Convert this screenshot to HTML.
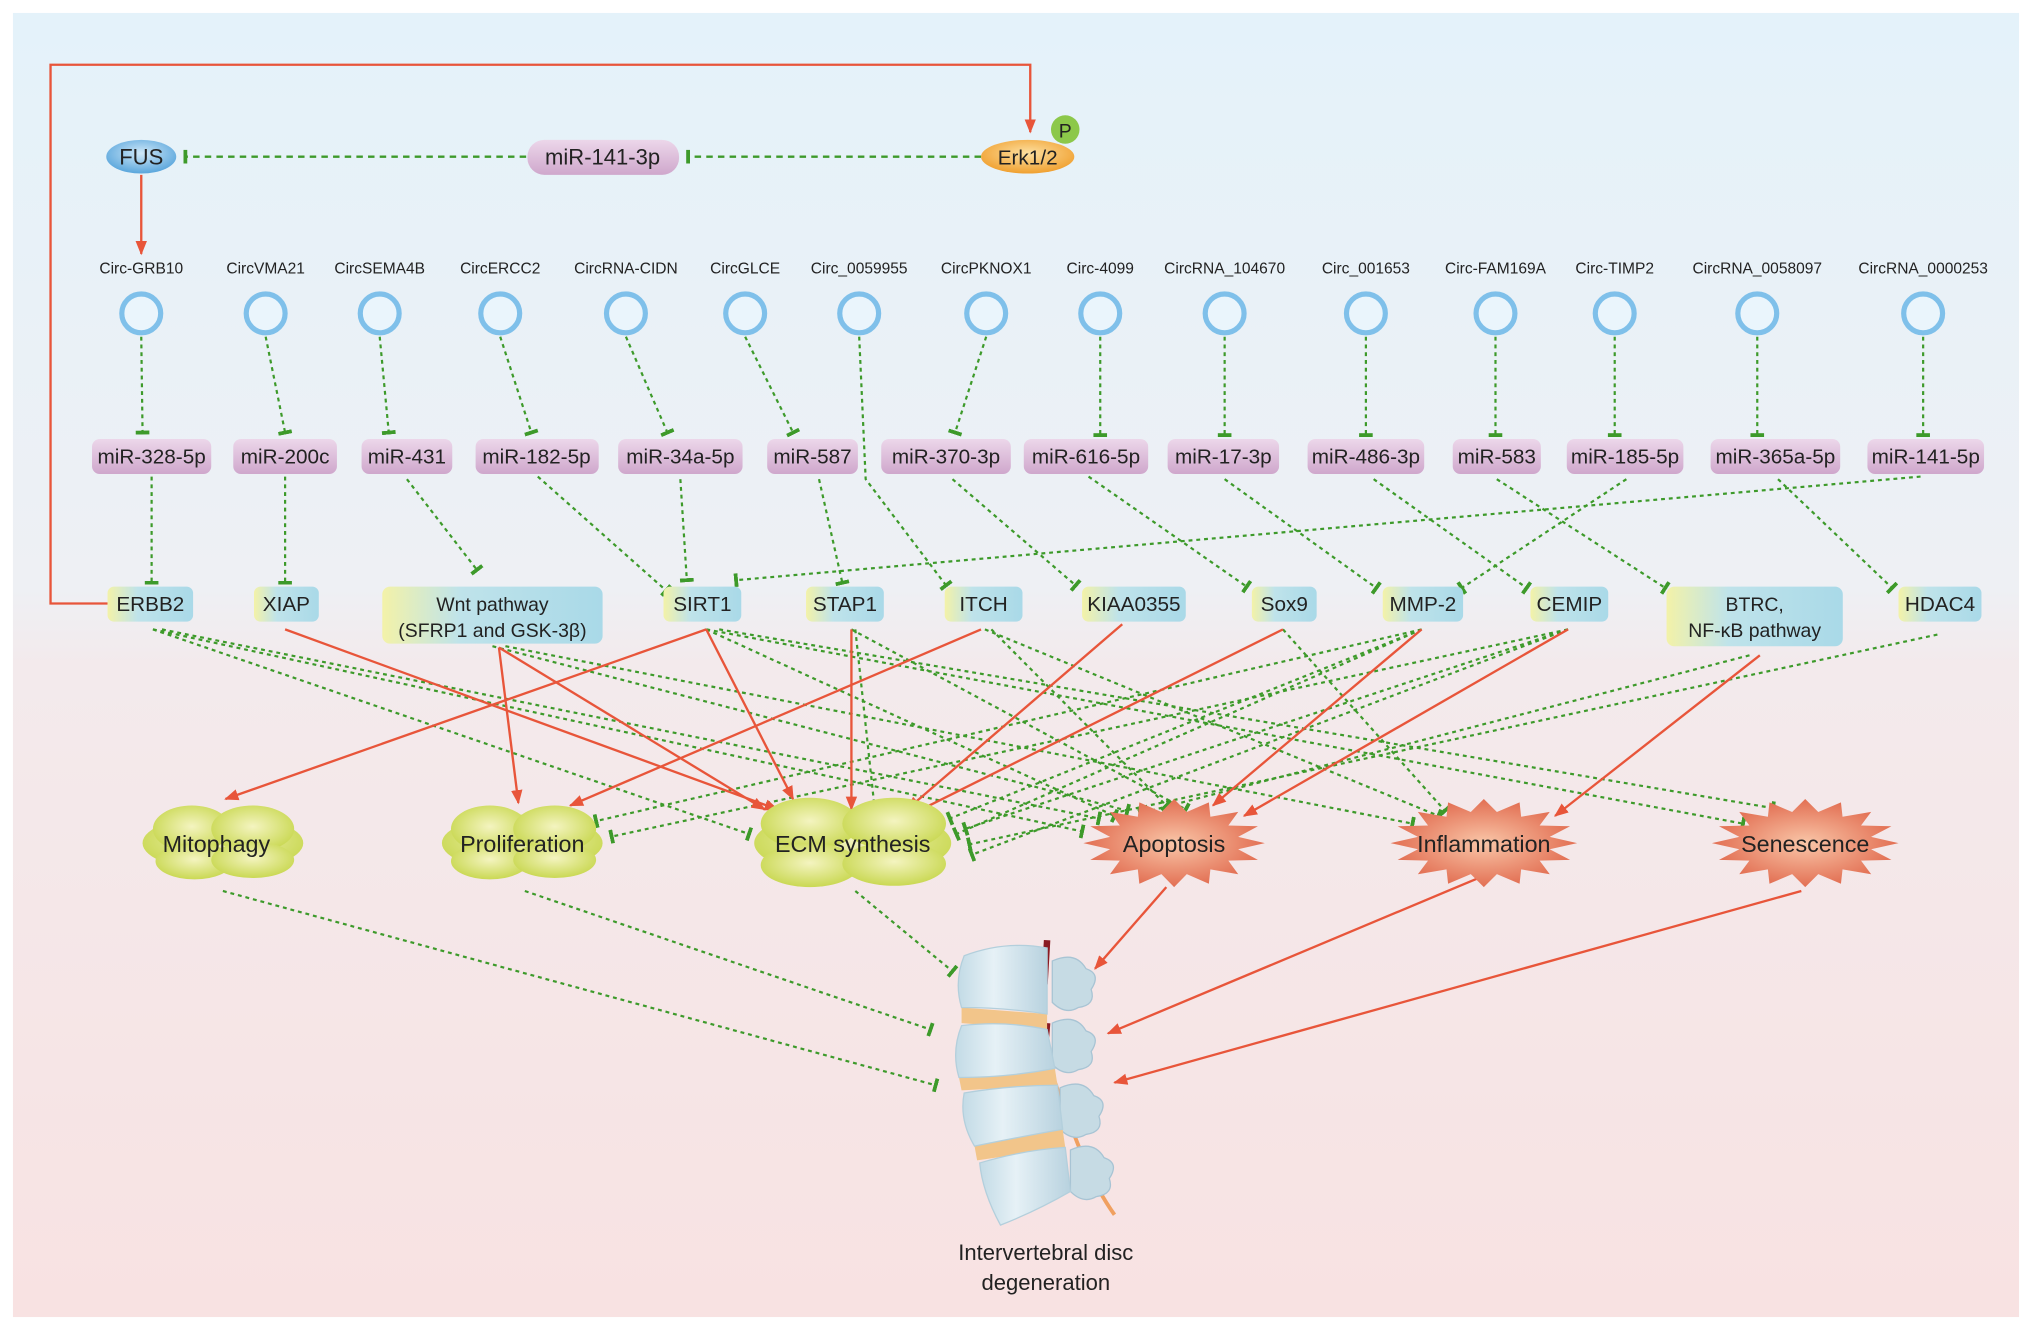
<!DOCTYPE html>
<html><head><meta charset="utf-8"><style>
html,body{margin:0;padding:0;background:#fff;}
svg{display:block;}
text{font-family:"Liberation Sans",sans-serif;fill:#222;}
</style></head><body>
<svg width="2032" height="1330" viewBox="0 0 1568 1027" preserveAspectRatio="none" xmlns="http://www.w3.org/2000/svg">
<defs>
<linearGradient id="bg" x1="0" y1="0" x2="0" y2="1">
<stop offset="0" stop-color="#e4f2fa"/><stop offset="0.44" stop-color="#eef0f4"/><stop offset="0.5" stop-color="#f3eaec"/><stop offset="1" stop-color="#f8e2e2"/>
</linearGradient>
<linearGradient id="tg" x1="0" y1="0" x2="1" y2="0">
<stop offset="0" stop-color="#f3f2a8"/><stop offset="0.35" stop-color="#bfe3ea"/><stop offset="1" stop-color="#a9d9e8"/>
</linearGradient>
<linearGradient id="mg" x1="0" y1="0" x2="0" y2="1">
<stop offset="0" stop-color="#ecd7ea"/><stop offset="1" stop-color="#cfa7cc"/>
</linearGradient>
<radialGradient id="cg" cx="0.5" cy="0.45" r="0.6">
<stop offset="0" stop-color="#f4f4c0"/><stop offset="1" stop-color="#c6d64a"/>
</radialGradient>
<radialGradient id="sg" cx="0.5" cy="0.5" r="0.55">
<stop offset="0" stop-color="#f9c6a8"/><stop offset="1" stop-color="#e0664a"/>
</radialGradient>
<radialGradient id="fg" cx="0.5" cy="0.4" r="0.6"><stop offset="0" stop-color="#cfe8f8"/><stop offset="1" stop-color="#5aa6dc"/></radialGradient>
<radialGradient id="eg" cx="0.5" cy="0.4" r="0.6"><stop offset="0" stop-color="#fde0a0"/><stop offset="1" stop-color="#f0a030"/></radialGradient>
<linearGradient id="vg" x1="0" y1="0" x2="1" y2="0"><stop offset="0" stop-color="#c3dbe6"/><stop offset="0.4" stop-color="#e6f1f6"/><stop offset="1" stop-color="#b8d2df"/></linearGradient>
<marker id="bar" viewBox="0 0 4 14" refX="2" refY="7" markerWidth="3" markerHeight="13" markerUnits="userSpaceOnUse" orient="auto"><rect width="4" height="14" fill="#3d9a2a"/></marker>
<marker id="arr" viewBox="0 0 10 8" refX="9" refY="4" markerWidth="11" markerHeight="9" markerUnits="userSpaceOnUse" orient="auto"><path d="M0,0 L10,4 L0,8 Z" fill="#e8553a"/></marker>
<polygon id="star" points="1,0 .706,.14 .924,.383 .598,.4 .707,.707 .4,.598 .383,.924 .14,.706 0,1 -.14,.706 -.383,.924 -.4,.598 -.707,.707 -.598,.4 -.924,.383 -.706,.14 -1,0 -.706,-.14 -.924,-.383 -.598,-.4 -.707,-.707 -.4,-.598 -.383,-.924 -.14,-.706 0,-1 .14,-.706 .383,-.924 .4,-.598 .707,-.707 .598,-.4 .924,-.383 .706,-.14"/>
</defs>
<rect x="0" y="0" width="1568" height="1027" fill="#fff"/>
<rect x="10" y="10" width="1548" height="1007" fill="url(#bg)"/>

<polyline points="83,466 39,466 39,50 795,50 795,102" fill="none" stroke="#e8553a" stroke-width="1.8" marker-end="url(#arr)"/>
<line x1="109" y1="135" x2="109" y2="196" stroke="#e8553a" stroke-width="1.8" marker-end="url(#arr)"/>
<g stroke="#3d9a2a" stroke-width="1.8" stroke-dasharray="5 4" fill="none">
<line x1="757" y1="121" x2="531" y2="121" marker-end="url(#bar)"/>
<line x1="406" y1="121" x2="143" y2="121" marker-end="url(#bar)"/>
</g>
<ellipse cx="109" cy="121" rx="27" ry="13" fill="url(#fg)"/>
<text x="109" y="127" font-size="17" text-anchor="middle">FUS</text>
<rect x="407" y="108" width="117" height="27" rx="13" fill="url(#mg)"/>
<text x="465" y="127" font-size="17" text-anchor="middle">miR-141-3p</text>
<ellipse cx="793" cy="121" rx="36" ry="13" fill="url(#eg)"/>
<text x="793" y="127" font-size="16" text-anchor="middle">Erk1/2</text>
<circle cx="822" cy="100" r="11" fill="#8cc84a"/>
<text x="822" y="106" font-size="15" text-anchor="middle">P</text>

<g font-size="12" text-anchor="middle">
<text x="109" y="211">Circ-GRB10</text><text x="205" y="211">CircVMA21</text><text x="293" y="211">CircSEMA4B</text><text x="386" y="211">CircERCC2</text><text x="483" y="211">CircRNA-CIDN</text><text x="575" y="211">CircGLCE</text><text x="663" y="211">Circ_0059955</text><text x="761" y="211">CircPKNOX1</text><text x="849" y="211">Circ-4099</text><text x="945" y="211">CircRNA_104670</text><text x="1054" y="211">Circ_001653</text><text x="1154" y="211">Circ-FAM169A</text><text x="1246" y="211">Circ-TIMP2</text><text x="1356" y="211">CircRNA_0058097</text><text x="1484" y="211">CircRNA_0000253</text>
</g>

<g stroke="#3d9a2a" stroke-width="1.7" stroke-dasharray="3 3" fill="none" marker-end="url(#bar)">
<line x1="109" y1="260" x2="110" y2="334"/><line x1="205" y1="260" x2="220" y2="334"/><line x1="293" y1="260" x2="300" y2="334"/><line x1="386" y1="260" x2="410" y2="334"/><line x1="483" y1="260" x2="515" y2="334"/><line x1="575" y1="260" x2="612" y2="334"/>
<polyline points="663,260 668,370 730,452"/>
<line x1="761" y1="260" x2="737" y2="334"/><line x1="849" y1="260" x2="849" y2="336"/><line x1="945" y1="260" x2="945" y2="336"/><line x1="1054" y1="260" x2="1054" y2="336"/><line x1="1154" y1="260" x2="1154" y2="336"/><line x1="1246" y1="260" x2="1246" y2="336"/><line x1="1356" y1="260" x2="1356" y2="336"/><line x1="1484" y1="260" x2="1484" y2="336"/>
<line x1="117" y1="368" x2="117" y2="450"/><line x1="220" y1="368" x2="220" y2="450"/><line x1="314" y1="370" x2="368" y2="440"/><line x1="415" y1="368" x2="514" y2="456"/><line x1="525" y1="370" x2="530" y2="448"/><line x1="632" y1="370" x2="650" y2="450"/><line x1="735" y1="370" x2="830" y2="452"/><line x1="840" y1="368" x2="962" y2="453"/><line x1="945" y1="370" x2="1062" y2="454"/><line x1="1060" y1="370" x2="1178" y2="454"/><line x1="1155" y1="370" x2="1285" y2="454"/><line x1="1255" y1="370" x2="1128" y2="454"/><line x1="1372" y1="370" x2="1460" y2="454"/><line x1="1482" y1="368" x2="568" y2="448"/>
</g>

<g fill="#eaf5fc" stroke="#7fc0ea" stroke-width="4">
<circle cx="109" cy="242" r="15"/><circle cx="205" cy="242" r="15"/><circle cx="293" cy="242" r="15"/><circle cx="386" cy="242" r="15"/><circle cx="483" cy="242" r="15"/><circle cx="575" cy="242" r="15"/><circle cx="663" cy="242" r="15"/><circle cx="761" cy="242" r="15"/><circle cx="849" cy="242" r="15"/><circle cx="945" cy="242" r="15"/><circle cx="1054" cy="242" r="15"/><circle cx="1154" cy="242" r="15"/><circle cx="1246" cy="242" r="15"/><circle cx="1356" cy="242" r="15"/><circle cx="1484" cy="242" r="15"/>
</g>

<g fill="url(#mg)">
<rect x="71" y="339" width="92" height="27" rx="6"/><rect x="180" y="339" width="80" height="27" rx="6"/><rect x="279" y="339" width="70" height="27" rx="6"/><rect x="367" y="339" width="95" height="27" rx="6"/><rect x="477" y="339" width="96" height="27" rx="6"/><rect x="592" y="339" width="70" height="27" rx="6"/><rect x="680" y="339" width="100" height="27" rx="6"/><rect x="790" y="339" width="96" height="27" rx="6"/><rect x="901" y="339" width="86" height="27" rx="6"/><rect x="1009" y="339" width="90" height="27" rx="6"/><rect x="1121" y="339" width="68" height="27" rx="6"/><rect x="1209" y="339" width="90" height="27" rx="6"/><rect x="1320" y="339" width="100" height="27" rx="6"/><rect x="1441" y="339" width="90" height="27" rx="6"/>
</g>
<g font-size="16" text-anchor="middle">
<text x="117" y="358">miR-328-5p</text><text x="220" y="358">miR-200c</text><text x="314" y="358">miR-431</text><text x="414" y="358">miR-182-5p</text><text x="525" y="358">miR-34a-5p</text><text x="627" y="358">miR-587</text><text x="730" y="358">miR-370-3p</text><text x="838" y="358">miR-616-5p</text><text x="944" y="358">miR-17-3p</text><text x="1054" y="358">miR-486-3p</text><text x="1155" y="358">miR-583</text><text x="1254" y="358">miR-185-5p</text><text x="1370" y="358">miR-365a-5p</text><text x="1486" y="358">miR-141-5p</text>
</g>

<g stroke="#3d9a2a" stroke-width="1.7" stroke-dasharray="3 3" fill="none" marker-end="url(#bar)">
<line x1="118" y1="486" x2="578" y2="644"/><line x1="118" y1="486" x2="835" y2="642"/><line x1="125" y1="486" x2="848" y2="632"/>
<line x1="380" y1="499" x2="870" y2="626"/><line x1="390" y1="499" x2="1090" y2="636"/>
<line x1="545" y1="486" x2="1345" y2="636"/><line x1="545" y1="486" x2="860" y2="630"/><line x1="555" y1="486" x2="1368" y2="624"/>
<line x1="657" y1="486" x2="915" y2="625"/><line x1="660" y1="486" x2="675" y2="625"/>
<line x1="760" y1="486" x2="1110" y2="630"/><line x1="765" y1="486" x2="900" y2="622"/>
<line x1="990" y1="486" x2="1115" y2="626"/>
<line x1="1097" y1="486" x2="460" y2="634"/><line x1="1097" y1="486" x2="738" y2="644"/><line x1="1097" y1="486" x2="733" y2="632"/>
<line x1="1210" y1="486" x2="472" y2="646"/><line x1="1210" y1="486" x2="750" y2="660"/><line x1="1210" y1="486" x2="745" y2="640"/>
<line x1="1495" y1="490" x2="748" y2="652"/><line x1="1350" y1="506" x2="880" y2="628"/>
<line x1="172" y1="688" x2="722" y2="838"/><line x1="405" y1="688" x2="718" y2="795"/><line x1="660" y1="688" x2="735" y2="750"/>
</g>

<g stroke="#e8553a" stroke-width="1.8" fill="none" marker-end="url(#arr)">
<line x1="545" y1="486" x2="174" y2="617"/><line x1="545" y1="486" x2="612" y2="617"/><line x1="220" y1="486" x2="600" y2="625"/><line x1="385" y1="500" x2="400" y2="620"/><line x1="385" y1="500" x2="590" y2="625"/><line x1="657" y1="486" x2="657" y2="625"/><line x1="757" y1="486" x2="440" y2="622"/><line x1="866" y1="482" x2="700" y2="625"/><line x1="990" y1="486" x2="705" y2="628"/><line x1="1097" y1="486" x2="936" y2="622"/><line x1="1210" y1="486" x2="960" y2="630"/><line x1="1358" y1="506" x2="1200" y2="630"/>
<line x1="900" y1="685" x2="845" y2="748"/><line x1="1148" y1="675" x2="855" y2="798"/><line x1="1390" y1="688" x2="860" y2="836"/>
</g>

<g fill="url(#tg)">
<rect x="83" y="453" width="66" height="27" rx="5"/><rect x="196" y="453" width="50" height="27" rx="5"/><rect x="295" y="453" width="170" height="44" rx="6"/><rect x="512" y="453" width="60" height="27" rx="5"/><rect x="622" y="453" width="60" height="27" rx="5"/><rect x="729" y="453" width="60" height="27" rx="5"/><rect x="835" y="453" width="80" height="27" rx="5"/><rect x="966" y="453" width="50" height="27" rx="5"/><rect x="1067" y="453" width="62" height="27" rx="5"/><rect x="1181" y="453" width="60" height="27" rx="5"/><rect x="1286" y="453" width="136" height="46" rx="6"/><rect x="1465" y="453" width="64" height="27" rx="5"/>
</g>
<g font-size="16" text-anchor="middle">
<text x="116" y="472">ERBB2</text><text x="221" y="472">XIAP</text><text x="380" y="472" font-size="15">Wnt pathway</text><text x="380" y="492" font-size="15">(SFRP1 and GSK-3β)</text><text x="542" y="472">SIRT1</text><text x="652" y="472">STAP1</text><text x="759" y="472">ITCH</text><text x="875" y="472">KIAA0355</text><text x="991" y="472">Sox9</text><text x="1098" y="472">MMP-2</text><text x="1211" y="472">CEMIP</text><text x="1354" y="472" font-size="15">BTRC,</text><text x="1354" y="492" font-size="15">NF-κB pathway</text><text x="1497" y="472">HDAC4</text>
</g>

<g fill="url(#cg)">
<g><ellipse cx="172" cy="651" rx="62" ry="22"/><ellipse cx="148" cy="640" rx="30" ry="18"/><ellipse cx="195" cy="640" rx="32" ry="18"/><ellipse cx="150" cy="665" rx="30" ry="14"/><ellipse cx="195" cy="664" rx="32" ry="14"/></g>
<g><ellipse cx="403" cy="651" rx="62" ry="22"/><ellipse cx="378" cy="640" rx="30" ry="18"/><ellipse cx="428" cy="640" rx="32" ry="18"/><ellipse cx="378" cy="665" rx="30" ry="14"/><ellipse cx="428" cy="664" rx="32" ry="14"/></g>
<g><ellipse cx="658" cy="651" rx="76" ry="26"/><ellipse cx="625" cy="636" rx="38" ry="20"/><ellipse cx="690" cy="636" rx="40" ry="20"/><ellipse cx="625" cy="668" rx="38" ry="17"/><ellipse cx="690" cy="667" rx="40" ry="17"/></g>
</g>
<g fill="url(#sg)">
<use href="#star" transform="translate(906,651) scale(70,34)"/>
<use href="#star" transform="translate(1145,651) scale(72,34)"/>
<use href="#star" transform="translate(1393,651) scale(72,34)"/>
</g>
<g font-size="18" text-anchor="middle">
<text x="167" y="658">Mitophagy</text><text x="403" y="658">Proliferation</text><text x="658" y="658">ECM synthesis</text><text x="906" y="658">Apoptosis</text><text x="1145" y="658">Inflammation</text><text x="1393" y="658">Senescence</text>
</g>

<!-- spine -->
<g>
<path d="M808,726 L806,760 M808,790 L806,815" stroke="#8a1a22" stroke-width="5"/>
<path d="M812,830 C830,880 840,910 860,938" stroke="#f0a060" stroke-width="3" fill="none"/>
<g fill="#c6dbe4" stroke="#a8c4d4" stroke-width="1">
<path d="M812,742 q18,-8 26,6 q12,4 4,16 q4,12 -10,14 q-10,6 -20,-4 z"/>
<path d="M812,790 q18,-8 26,6 q12,4 4,16 q4,12 -10,14 q-10,6 -20,-4 z"/>
<path d="M818,840 q18,-8 26,6 q12,4 4,16 q4,12 -10,14 q-10,6 -20,-4 z"/>
<path d="M826,888 q18,-8 26,6 q12,4 4,16 q4,12 -10,14 q-10,6 -20,-4 z"/>
</g>
<g fill="#f2c58a">
<path d="M742,778 L808,783 L808,795 L742,790 Z"/>
<path d="M740,832 L814,825 L816,838 L742,842 Z"/>
<path d="M752,885 L820,872 L822,886 L754,896 Z"/>
</g>
<g fill="url(#vg)" stroke="#b3cfdc" stroke-width="1">
<path d="M744,738 Q776,726 808,732 L808,783 Q775,778 742,778 Q736,758 744,738 Z"/>
<path d="M742,792 Q776,788 808,795 L814,825 Q778,832 740,832 Q734,812 742,792 Z"/>
<path d="M744,844 Q780,838 816,838 L820,872 Q786,878 752,885 Q740,865 744,844 Z"/>
<path d="M756,898 Q790,888 822,886 L826,920 Q800,935 772,946 Q758,920 756,898 Z"/>
</g>
</g>
<g font-size="17" text-anchor="middle">
<text x="807" y="973">Intervertebral disc</text><text x="807" y="996">degeneration</text>
</g>
</svg>
</body></html>
